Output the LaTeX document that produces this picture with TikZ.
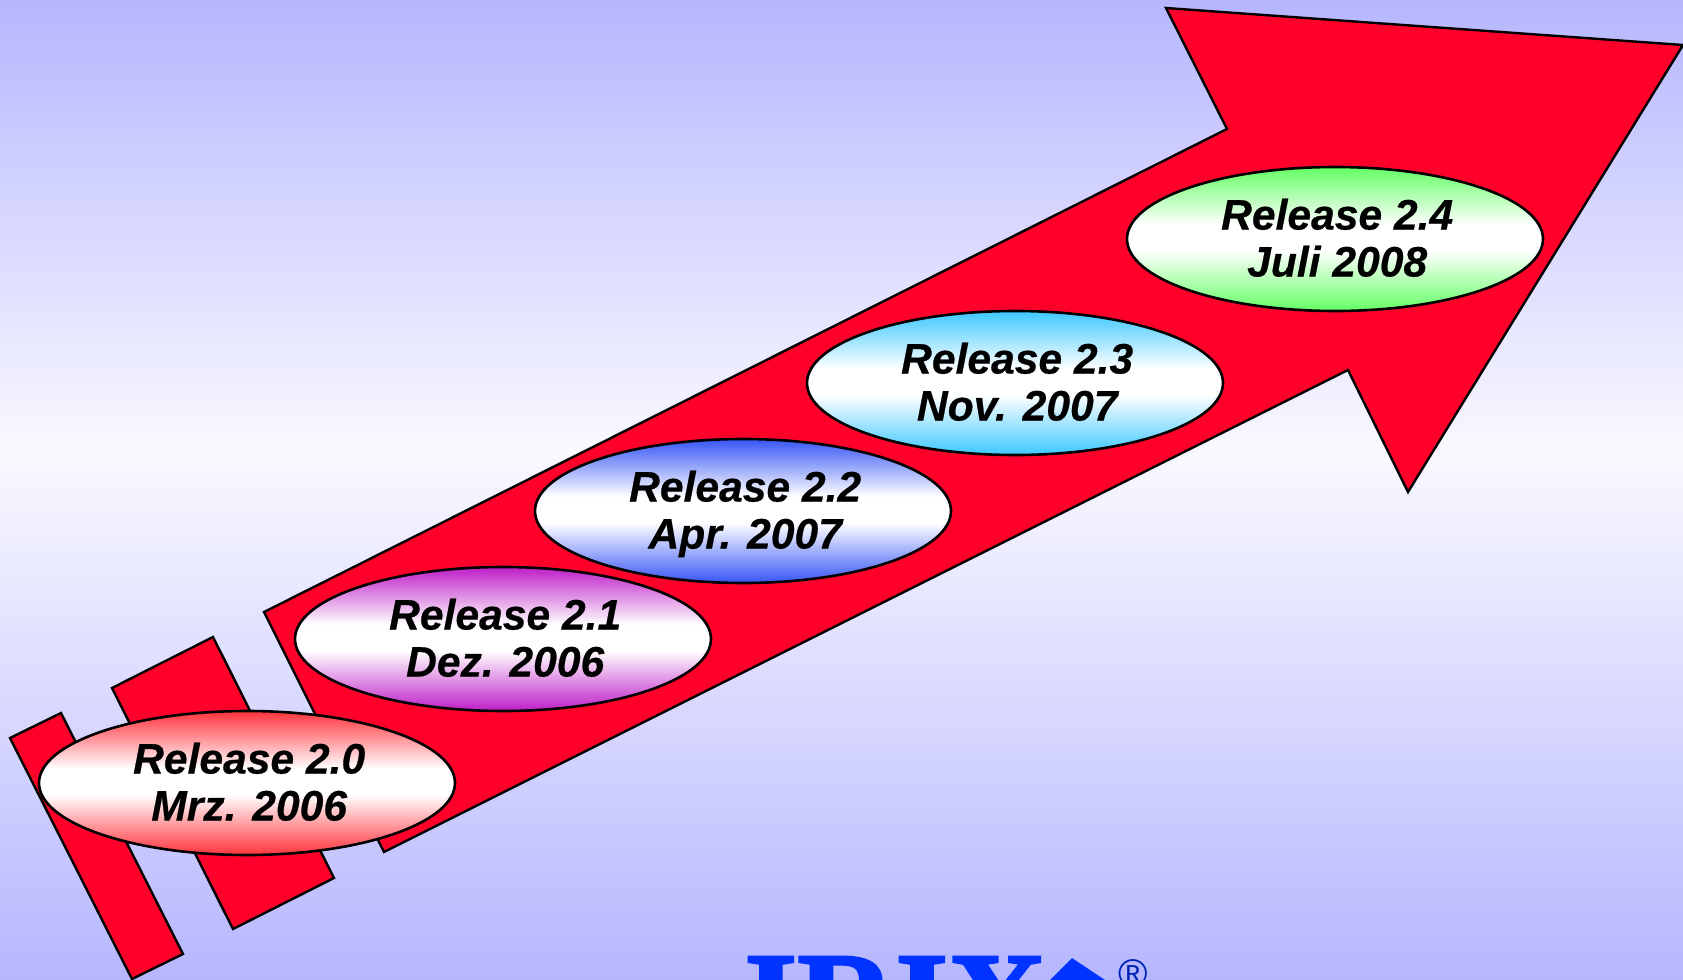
\documentclass[tikz,border=0pt]{standalone}
\usepackage{fontspec}
\setmainfont{Liberation Sans}
\newfontfamily\logofont[BoldFeatures={FakeBold=2}]{Liberation Serif}
\newfontfamily\relfont[BoldItalicFeatures={FakeBold=0.5}]{Liberation Sans}
\usetikzlibrary{shapes.geometric}
\definecolor{skyedge}{RGB}{182,182,255}
\definecolor{skymid}{RGB}{249,249,255}
\definecolor{arrowred}{RGB}{255,0,42}
\definecolor{logoblue}{RGB}{0,51,255}
\definecolor{capred}{RGB}{255,51,60}
\definecolor{capviolet}{RGB}{190,30,200}
\definecolor{capblue}{RGB}{55,85,245}
\definecolor{capcyan}{RGB}{60,200,255}
\definecolor{capgreen}{RGB}{100,255,100}
\pgfdeclareverticalshading{skyshade}{100bp}{color(0bp)=(skyedge); color(25bp)=(skyedge); color(52bp)=(skymid); color(75bp)=(skyedge); color(100bp)=(skyedge)}
\newcommand{\capshade}[2]{\pgfdeclareverticalshading{#1}{100bp}{color(0bp)=(#2); color(25bp)=(#2); color(46bp)=(white); color(55bp)=(white); color(75bp)=(#2); color(100bp)=(#2)}}
\capshade{shadered}{capred}
\capshade{shadeviolet}{capviolet}
\capshade{shadeblue}{capblue}
\capshade{shadecyan}{capcyan}
\capshade{shadegreen}{capgreen}
\newcommand{\reltext}[2]{\hspace*{2.2pt}#1\\\hspace*{2.2pt}\smash{#2}\rule[-1.4pt]{0pt}{1.4pt}}
\begin{document}
\begin{tikzpicture}[x=0.5pt,y=-0.5pt]
\tikzstyle{bar} = [draw=black,line width=1.2pt,line join=miter,fill=arrowred]
\tikzstyle{release} = [ellipse,draw=black,line width=1.3pt,inner sep=0pt,minimum width=208pt,minimum height=72pt,text centered,align=center,font=\fontsize{21.3}{23.5}\selectfont\relfont\bfseries\itshape]
\clip (0,0) rectangle (1683,980);
\shade [shading=skyshade] (0,0) rectangle (1683,980);
% logo, cut by the lower edge
\node (logo) [anchor=base west,inner sep=0pt,text=logoblue,font=\fontsize{68}{68}\selectfont\logofont\bfseries] at (744,1046) {IRIX};
\fill [logoblue] (1072,958) -- (1040,990) -- (1120,990) -- cycle;
\node (reg) [text=logoblue!70!black,inner sep=0pt,font=\fontsize{20}{20}\selectfont] at (1133,974) {\textregistered};
% bars and arrow
\draw [bar] (10,738) -- (61,713) -- (183,954) -- (132,979) -- cycle;
\draw [bar] (112,688) -- (213,637) -- (334,878) -- (233,929) -- cycle;
\draw [bar] (264,612) -- (1227,129) -- (1166,8) -- (1683,45) -- (1408,492) -- (1348,370) -- (384,852) -- cycle;
% releases
\node (rel0) [release,shading=shadered] at (247,783) {\reltext{Release 2.0}{Mrz. 2006}};
\node (rel1) [release,shading=shadeviolet] at (503,639) {\reltext{Release 2.1}{Dez. 2006}};
\node (rel2) [release,shading=shadeblue] at (743,511) {\reltext{Release 2.2}{Apr. 2007}};
\node (rel3) [release,shading=shadecyan] at (1015,383) {\reltext{Release 2.3}{Nov. 2007}};
\node (rel4) [release,shading=shadegreen] at (1335,239) {\reltext{Release 2.4}{Juli 2008}};
\end{tikzpicture}
\end{document}
